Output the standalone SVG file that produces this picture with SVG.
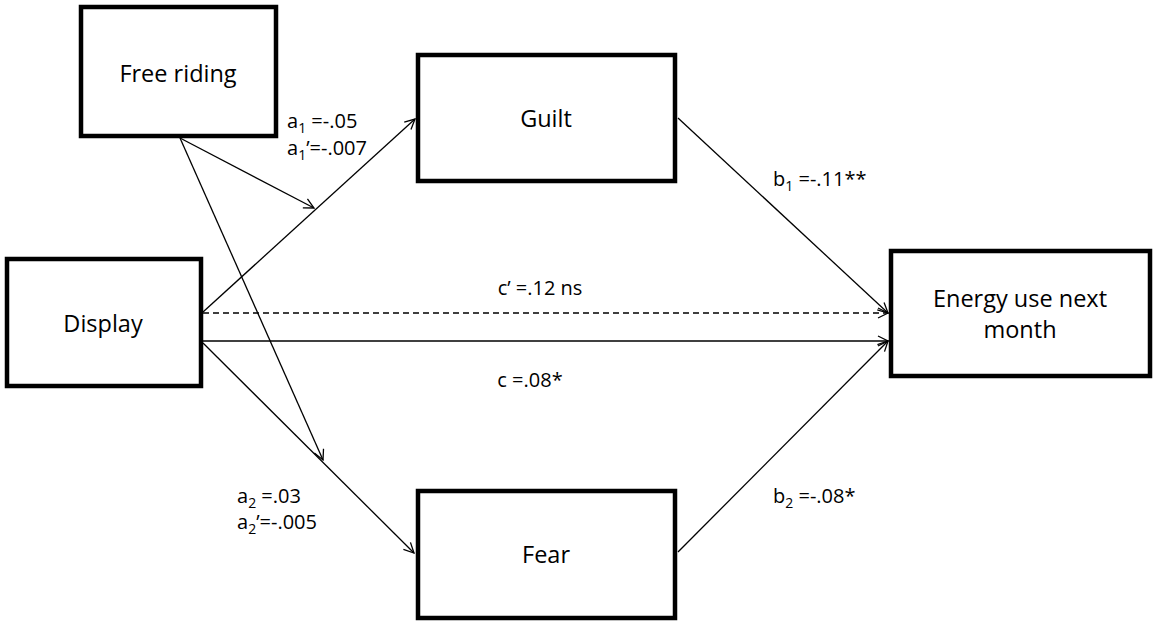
<svg xmlns="http://www.w3.org/2000/svg" width="1158" height="627" viewBox="0 0 1158 627">
<defs>
<marker id="arr" viewBox="0 0 12 12" refX="11" refY="6" markerWidth="12" markerHeight="12" markerUnits="userSpaceOnUse" orient="auto">
<path d="M1,1 L11,6 L1,11" fill="none" stroke="#000" stroke-width="1.3"/>
</marker>
<style>
.box{fill:#fff;stroke:#000;stroke-width:4.5}
.nt{font-family:"Open Sans","Noto Sans",sans-serif;font-size:23.5px;fill:#000;text-anchor:middle}
.lb{font-family:"Open Sans","Noto Sans",sans-serif;font-size:20px;fill:#000}
.sub{font-size:14px}
.ln{stroke:#000;stroke-width:1.3;fill:none}
</style>
</defs>
<rect width="1158" height="627" fill="#fff"/>
<g id="connectors">
<line class="ln" x1="203" y1="312" x2="415" y2="119" marker-end="url(#arr)"/>
<line class="ln" x1="203" y1="313" x2="888" y2="313" stroke-dasharray="6,4" marker-end="url(#arr)"/>
<line class="ln" x1="203" y1="341" x2="888" y2="341" stroke-width="2" marker-end="url(#arr)"/>
<line class="ln" x1="203" y1="343" x2="414" y2="553" marker-end="url(#arr)"/>
<line class="ln" x1="180" y1="138" x2="314" y2="208" marker-end="url(#arr)"/>
<line class="ln" x1="180" y1="138" x2="323" y2="460" marker-end="url(#arr)"/>
<line class="ln" x1="678" y1="118" x2="888" y2="313" marker-end="url(#arr)"/>
<line class="ln" x1="678" y1="552" x2="888" y2="341" marker-end="url(#arr)"/>
</g>
<g id="node-free-riding">
<rect class="box" x="81" y="7" width="195" height="129"/>
<text class="nt" x="178" y="82">Free riding</text>
</g>
<g id="node-guilt">
<rect class="box" x="418" y="55" width="257" height="126"/>
<text class="nt" x="546" y="127">Guilt</text>
</g>
<g id="node-display">
<rect class="box" x="7" y="259" width="194" height="127"/>
<text class="nt" x="103" y="332">Display</text>
</g>
<g id="node-energy">
<rect class="box" x="891" y="251" width="259" height="125"/>
<text class="nt" x="1020" y="307">Energy use next</text>
<text class="nt" x="1020" y="338">month</text>
</g>
<g id="node-fear">
<rect class="box" x="418" y="491" width="257" height="127"/>
<text class="nt" x="546" y="563">Fear</text>
</g>
<g id="labels">
<text class="lb" x="287" y="128">a<tspan class="sub" dy="5">1</tspan><tspan dy="-5"> =-.05</tspan></text>
<text class="lb" x="287" y="155">a<tspan class="sub" dy="5">1</tspan><tspan dy="-5">’=-.007</tspan></text>
<text class="lb" x="773" y="186">b<tspan class="sub" dy="5">1</tspan><tspan dy="-5"> =-.11**</tspan></text>
<text class="lb" x="540" y="295" text-anchor="middle">c’ =.12 ns</text>
<text class="lb" x="530" y="387" text-anchor="middle">c =.08*</text>
<text class="lb" x="237" y="503">a<tspan class="sub" dy="5">2</tspan><tspan dy="-5"> =.03</tspan></text>
<text class="lb" x="237" y="529">a<tspan class="sub" dy="5">2</tspan><tspan dy="-5">’=-.005</tspan></text>
<text class="lb" x="773" y="503">b<tspan class="sub" dy="5">2</tspan><tspan dy="-5"> =-.08*</tspan></text>
</g>
</svg>
